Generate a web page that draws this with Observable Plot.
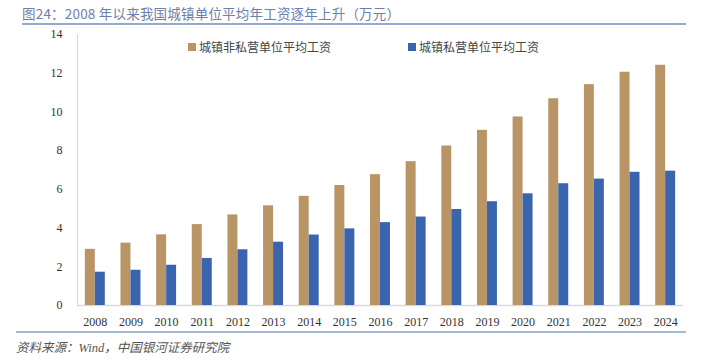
<!DOCTYPE html>
<html><head><meta charset="utf-8">
<script src="https://cdn.jsdelivr.net/npm/d3@7"></script>
<script src="https://cdn.jsdelivr.net/npm/@observablehq/plot@0.6"></script>
<style>
body{margin:0;background:#fff;width:716px;height:360px;overflow:hidden;font-family:"Liberation Serif","Noto Sans CJK SC",serif;}
#wrap{position:relative;width:716px;height:360px;}
#title{position:absolute;left:22px;top:3px;font-size:13.5px;color:#6c80aa;font-family:"Noto Sans CJK SC","Liberation Serif",sans-serif;letter-spacing:0.2px;}
#tline{position:absolute;left:22px;top:23px;width:664px;height:2px;background:#93a9d2;}
#chart{position:absolute;left:0;top:22px;}
#bline{position:absolute;left:16px;top:331px;width:670px;height:2px;background:#a7b9da;}
#src{position:absolute;left:16px;top:337px;font-size:12.5px;color:#555;font-style:italic;font-family:"Liberation Serif","Noto Sans CJK SC",serif;}
.leg{position:absolute;top:38px;font-size:12px;color:#444;font-family:"Noto Sans CJK SC",serif;display:flex;align-items:center;}
.sw{display:inline-block;width:8px;height:8px;margin-right:3px;}
</style></head>
<body><div id="wrap">
<div id="title">图24：2008 年以来我国城镇单位平均年工资逐年上升（万元）</div>
<div id="tline"></div>
<div id="chart"></div>
<div id="leg1" class="leg" style="left:188px"><span class="sw" style="background:#b99566"></span>城镇非私营单位平均工资</div>
<div id="leg2" class="leg" style="left:408px"><span class="sw" style="background:#3a64ae"></span>城镇私营单位平均工资</div>
<div id="bline"></div>
<div id="src">资料来源：Wind，中国银河证券研究院</div>
</div>
<script>
const years = ["2008","2009","2010","2011","2012","2013","2014","2015","2016","2017","2018","2019","2020","2021","2022","2023","2024"];
const nonPrivate = [2.90,3.22,3.65,4.18,4.68,5.15,5.64,6.20,6.76,7.43,8.24,9.05,9.74,10.68,11.41,12.05,12.41];
const privateW = [1.72,1.82,2.08,2.43,2.88,3.27,3.64,3.96,4.28,4.57,4.96,5.36,5.77,6.29,6.53,6.88,6.94];
const yTicks = [0,2,4,6,8,10,12,14];
const colors = ["#b99566","#3a64ae"];

const rows = years.map((y,i)=>({year:y, a:nonPrivate[i], b:privateW[i]}));

const chart = Plot.plot({
  width:716, height:310,
  marginLeft:77, marginRight:33, marginTop:12, marginBottom:27,
  style:{fontFamily:"'Liberation Serif', serif", fontSize:"12px", color:"#333", background:"transparent"},
  x:{domain:years, round:false, paddingInner:0.44, paddingOuter:0.22, label:null, tickSize:0, tickPadding:12},
  y:{domain:[0,14], ticks:yTicks, label:null, tickSize:0, tickPadding:15},
  marks:[
    Plot.ruleY([0], {stroke:"#d9d9d9", strokeWidth:1.3}),
    Plot.barY(rows, {x:"year", y:"a", fill:colors[0], insetRight:10, insetLeft:0}),
    Plot.barY(rows, {x:"year", y:"b", fill:colors[1], insetLeft:10, insetRight:0})
  ]
});
document.getElementById("chart").appendChild(chart);
// left axis line
d3.select(chart).append("line")
  .attr("x1",77.5).attr("x2",77.5).attr("y1",12).attr("y2",283)
  .attr("stroke","#d9d9d9").attr("stroke-width",1.2);
</script>
</body></html>
